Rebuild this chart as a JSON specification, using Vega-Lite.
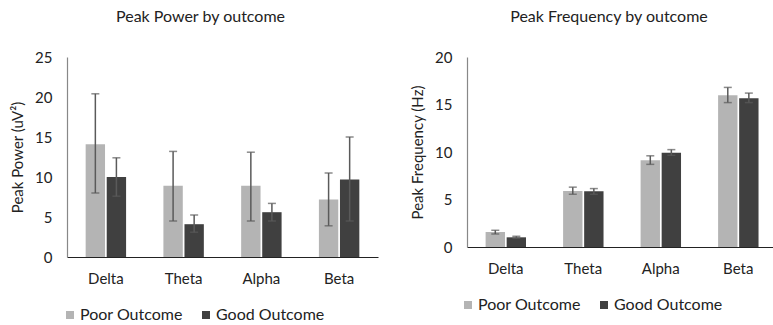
{
  "$schema": "https://vega.github.io/schema/vega-lite/v6.json",
  "padding": {"left": 10, "top": 9, "right": 0, "bottom": 0},
  "datasets": {
    "power": [
      {"band": "Delta", "outcome": "Poor Outcome", "value": 14.1, "lo": 8.0, "hi": 20.4},
      {"band": "Delta", "outcome": "Good Outcome", "value": 10.0, "lo": 7.6, "hi": 12.4},
      {"band": "Theta", "outcome": "Poor Outcome", "value": 8.9, "lo": 4.5, "hi": 13.2},
      {"band": "Theta", "outcome": "Good Outcome", "value": 4.1, "lo": 3.1, "hi": 5.25},
      {"band": "Alpha", "outcome": "Poor Outcome", "value": 8.9, "lo": 4.5, "hi": 13.1},
      {"band": "Alpha", "outcome": "Good Outcome", "value": 5.6, "lo": 4.5, "hi": 6.7},
      {"band": "Beta", "outcome": "Poor Outcome", "value": 7.2, "lo": 3.9, "hi": 10.5},
      {"band": "Beta", "outcome": "Good Outcome", "value": 9.7, "lo": 4.5, "hi": 15.0}
    ],
    "freq": [
      {"band": "Delta", "outcome": "Poor Outcome", "value": 1.58, "lo": 1.37, "hi": 1.76},
      {"band": "Delta", "outcome": "Good Outcome", "value": 1.02, "lo": 0.92, "hi": 1.13},
      {"band": "Theta", "outcome": "Poor Outcome", "value": 5.9, "lo": 5.55, "hi": 6.3},
      {"band": "Theta", "outcome": "Good Outcome", "value": 5.86, "lo": 5.55, "hi": 6.15},
      {"band": "Alpha", "outcome": "Poor Outcome", "value": 9.13, "lo": 8.7, "hi": 9.6},
      {"band": "Alpha", "outcome": "Good Outcome", "value": 9.93, "lo": 9.65, "hi": 10.25},
      {"band": "Beta", "outcome": "Poor Outcome", "value": 15.97, "lo": 15.2, "hi": 16.8},
      {"band": "Beta", "outcome": "Good Outcome", "value": 15.65, "lo": 15.2, "hi": 16.2}
    ]
  },
  "config": {
    "font": "Lato",
    "view": {"stroke": null},
    "axis": {"grid": false, "ticks": false, "labelFontSize": 15, "labelColor": "#222", "titleFontSize": 15, "titleFontWeight": "normal", "titleColor": "#222", "labelOverlap": false},
    "axisY": {"domainColor": "#888", "domainWidth": 1.2, "labelPadding": 15, "titlePadding": 9},
    "axisX": {"domainColor": "#222", "domainWidth": 1.2, "labelPadding": 14, "labelAngle": 0, "title": null},
    "title": {"fontSize": 16, "fontWeight": "normal", "color": "#222", "offset": 25, "frame": "group"},
    "legend": {"orient": "none", "direction": "horizontal", "title": null, "symbolType": "square", "symbolSize": 64, "symbolStrokeWidth": 0, "labelFontSize": 16, "labelColor": "#222", "columnPadding": 15, "labelOffset": 2}
  },
  "spacing": 32,
  "resolve": {"legend": {"color": "independent"}},
  "hconcat": [
    {
      "width": 311,
      "height": 200,
      "title": {"text": "Peak Power by outcome", "dx": -22},
      "data": {"name": "power"},
      "encoding": {
        "x": {"field": "band", "type": "nominal", "sort": ["Delta", "Theta", "Alpha", "Beta"], "scale": {"paddingInner": 0.48, "paddingOuter": 0.24}, "axis": {"title": null}},
        "xOffset": {"field": "outcome", "type": "nominal", "sort": ["Poor Outcome", "Good Outcome"], "scale": {"paddingInner": 0.08}}
      },
      "layer": [
        {
          "mark": {"type": "bar"},
          "encoding": {
            "y": {"field": "value", "type": "quantitative", "scale": {"domain": [0, 25], "nice": false}, "axis": {"title": "Peak Power (uV²)", "values": [0, 5, 10, 15, 20, 25], "tickCount": 6}},
            "color": {"field": "outcome", "type": "nominal", "sort": ["Poor Outcome", "Good Outcome"], "scale": {"domain": ["Poor Outcome", "Good Outcome"], "range": ["#b4b4b4", "#404040"]}, "legend": {"legendX": -5, "legendY": 250}}
          }
        },
        {
          "mark": {"type": "rule", "color": "#5a5a5a", "strokeWidth": 1.5},
          "encoding": {"y": {"field": "lo", "type": "quantitative", "axis": {"title": "Peak Power (uV²)", "values": [0, 5, 10, 15, 20, 25], "tickCount": 6}}, "y2": {"field": "hi"}}
        },
        {
          "mark": {"type": "tick", "color": "#5a5a5a", "thickness": 1.5, "size": 8},
          "encoding": {"y": {"field": "lo", "type": "quantitative", "axis": {"title": "Peak Power (uV²)", "values": [0, 5, 10, 15, 20, 25], "tickCount": 6}}}
        },
        {
          "mark": {"type": "tick", "color": "#5a5a5a", "thickness": 1.5, "size": 8},
          "encoding": {"y": {"field": "hi", "type": "quantitative", "axis": {"title": "Peak Power (uV²)", "values": [0, 5, 10, 15, 20, 25], "tickCount": 6}}}
        }
      ]
    },
    {
      "width": 310,
      "height": 190,
      "title": {"text": "Peak Frequency by outcome", "dx": -13},
      "data": {"name": "freq"},
      "encoding": {
        "x": {"field": "band", "type": "nominal", "sort": ["Delta", "Theta", "Alpha", "Beta"], "scale": {"paddingInner": 0.48, "paddingOuter": 0.24}, "axis": {"title": null}},
        "xOffset": {"field": "outcome", "type": "nominal", "sort": ["Poor Outcome", "Good Outcome"], "scale": {"paddingInner": 0.08}}
      },
      "layer": [
        {
          "mark": {"type": "bar"},
          "encoding": {
            "y": {"field": "value", "type": "quantitative", "scale": {"domain": [0, 20], "nice": false}, "axis": {"title": "Peak Frequency (Hz)", "values": [0, 5, 10, 15, 20]}},
            "color": {"field": "outcome", "type": "nominal", "sort": ["Poor Outcome", "Good Outcome"], "scale": {"domain": ["Poor Outcome", "Good Outcome"], "range": ["#b4b4b4", "#404040"]}, "legend": {"legendX": -7, "legendY": 240}}
          }
        },
        {
          "mark": {"type": "rule", "color": "#5a5a5a", "strokeWidth": 1.5},
          "encoding": {"y": {"field": "lo", "type": "quantitative", "axis": {"title": "Peak Frequency (Hz)", "values": [0, 5, 10, 15, 20]}}, "y2": {"field": "hi"}}
        },
        {
          "mark": {"type": "tick", "color": "#5a5a5a", "thickness": 1.5, "size": 8},
          "encoding": {"y": {"field": "lo", "type": "quantitative", "axis": {"title": "Peak Frequency (Hz)", "values": [0, 5, 10, 15, 20]}}}
        },
        {
          "mark": {"type": "tick", "color": "#5a5a5a", "thickness": 1.5, "size": 8},
          "encoding": {"y": {"field": "hi", "type": "quantitative", "axis": {"title": "Peak Frequency (Hz)", "values": [0, 5, 10, 15, 20]}}}
        }
      ]
    }
  ]
}
